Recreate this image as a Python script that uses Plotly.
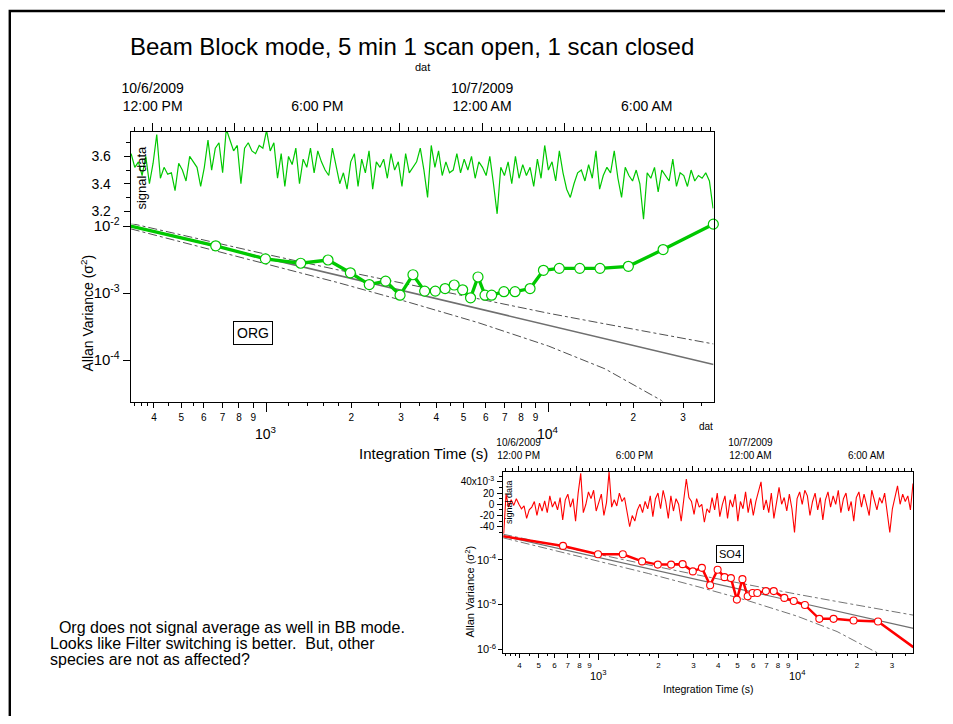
import math
import pandas as pd
import plotly.graph_objects as go

# The page puts the figure 8 px in from the top-left corner, so the figure is
# 8 px smaller than the window and every position is shifted by those 8 px.
PAGE_OFFSET = 8
W, H = 953 - PAGE_OFFSET, 724 - PAGE_OFFSET
FONT = "Liberation Sans, Arial, Helvetica, sans-serif"


def fx(x):
    return (x - PAGE_OFFSET) / W


def fy(y):
    return 1 - (y - PAGE_OFFSET) / H


# ---------------- data ----------------
# Allan variance lag times (s)
tau_s = [331, 662, 993, 1324, 1655, 1986, 2317, 2648, 2979, 3310, 3641, 3972,
         4303, 4634, 4965, 5296, 5627, 5958, 6289, 6951, 7613, 8606, 9599,
         10923, 12909, 15226, 19198, 25487, 38396]
org_allan = [1.0e-2, 5.08e-3, 3.24e-3, 2.79e-3, 3.12e-3, 2.01e-3, 1.34e-3,
             1.51e-3, 9.3e-4, 1.88e-3, 1.07e-3, 1.07e-3, 1.17e-3, 1.32e-3,
             1.12e-3, 8.5e-4, 1.74e-3, 9.3e-4, 9.3e-4, 1.05e-3, 1.05e-3,
             1.17e-3, 2.19e-3, 2.34e-3, 2.34e-3, 2.34e-3, 2.51e-3, 4.47e-3,
             1.07e-2]
so4_allan = [3.37e-4, 2.04e-4, 1.33e-4, 1.33e-4, 9.2e-5, 7.8e-5, 7.8e-5,
             8.0e-5, 5.5e-5, 6.6e-5, 2.7e-5, 6.0e-5, 4.1e-5, 3.9e-5, 1.29e-5,
             3.7e-5, 1.54e-5, 1.82e-5, 1.82e-5, 2.0e-5, 2.0e-5, 1.41e-5,
             1.20e-5, 9.8e-6, 4.8e-6, 4.8e-6, 4.4e-6, 4.2e-6, 1.12e-6]

# white-noise reference line and its confidence bounds
fit_tau = [331, 38460]
org_fit = [1.0e-2, 8.6e-5]
so4_fit = [3.39e-4, 2.95e-6]
bound_tau = [331, 562, 1000, 1778, 3162, 5623, 10000, 15850, 25120, 31620, 38460]
org_upper = [1.10e-2, 6.6e-3, 3.8e-3, 2.24e-3, 1.35e-3, 8.1e-4, 5.0e-4,
             3.47e-4, 2.4e-4, 2.0e-4, 1.74e-4]
org_lower = [9.1e-3, 5.1e-3, 2.75e-3, 1.45e-3, 7.4e-4, 3.63e-4, 1.62e-4,
             7.4e-5, 2.5e-5, 9.8e-6]
so4_upper = [3.72e-4, 2.24e-4, 1.30e-4, 7.7e-5, 4.57e-5, 2.75e-5, 1.70e-5,
             1.17e-5, 8.1e-6, 6.8e-6, 5.8e-6]
so4_lower = [3.09e-4, 1.74e-4, 9.3e-5, 4.95e-5, 2.51e-5, 1.23e-5, 5.5e-6,
             2.5e-6, 8.5e-7, 3.3e-7]

# raw signal time series
signal_start = "2009-10-06 11:13"
signal_step = "8min"
org_signal = [
    3.62, 3.52, 3.56, 3.46, 3.60, 3.40, 3.55, 3.76, 3.44, 3.52,
    3.47, 3.48, 3.35, 3.55, 3.50, 3.42, 3.60, 3.56, 3.52, 3.38,
    3.52, 3.72, 3.50, 3.66, 3.70, 3.48, 3.80, 3.72, 3.64, 3.68,
    3.40, 3.66, 3.70, 3.64, 3.62, 3.68, 3.66, 3.79, 3.64, 3.70,
    3.44, 3.62, 3.38, 3.60, 3.54, 3.66, 3.40, 3.58, 3.52, 3.66,
    3.48, 3.64, 3.56, 3.50, 3.46, 3.66, 3.52, 3.40, 3.48, 3.36,
    3.56, 3.62, 3.38, 3.58, 3.48, 3.64, 3.36, 3.56, 3.52, 3.58,
    3.44, 3.62, 3.50, 3.56, 3.38, 3.62, 3.48, 3.52, 3.56, 3.66,
    3.50, 3.30, 3.68, 3.52, 3.64, 3.46, 3.56, 3.48, 3.50, 3.62,
    3.48, 3.58, 3.50, 3.60, 3.44, 3.56, 3.52, 3.46, 3.60, 3.40,
    3.18, 3.52, 3.46, 3.56, 3.40, 3.60, 3.44, 3.54, 3.46, 3.52,
    3.38, 3.58, 3.44, 3.68, 3.50, 3.56, 3.42, 3.64, 3.48, 3.36,
    3.30, 3.40, 3.48, 3.50, 3.42, 3.54, 3.44, 3.64, 3.36, 3.46,
    3.52, 3.48, 3.64, 3.44, 3.30, 3.52, 3.46, 3.42, 3.50, 3.40,
    3.14, 3.48, 3.44, 3.52, 3.34, 3.50, 3.46, 3.42, 3.58, 3.38,
    3.48, 3.46, 3.38, 3.50, 3.42, 3.46, 3.44, 3.48, 3.42, 3.22,
]
so4_signal_milli = [
    -60, 18, -5, 8, -2, 10, 0, -8, -3, -25,
    -10, -5, 5, -20, 2, -12, 6, -15, 15, -5,
    5, -10, 12, -28, 8, 18, -5, 10, -30, 20,
    55, -15, 0, 22, 10, 25, -12, 5, 18, -20,
    3, 58, -5, 8, -3, 20, 5, 12, -18, -40,
    -20, -30, -10, 0, -15, 5, -8, 15, -22, 10,
    20, -8, 25, 5, -25, 15, -12, 10, 0, -30,
    8, 45, 12, 5, -18, 10, -5, 0, -32, -8,
    -15, 12, -10, 20, -22, 0, 15, -25, 8, -5,
    18, -30, 5, -8, 22, -15, 10, -20, 5, 25,
    40, -10, 8, -15, 20, -25, 5, 30, 0, 12,
    -12, 18, -8, -50, 10, 22, 0, 25, 15, -20,
    5, 20, -10, 12, -28, 8, 22, -5, 15, 0,
    25, -15, 10, 20, -12, 5, -30, 12, 22, -5,
    18, 0, -20, 25, 8, -10, 12, 2, 20, -15,
    -50, -8, 12, 33, 0, 18, 5, 15, -10, 37,
]
so4_signal = [v * 1e-3 for v in so4_signal_milli]
signal_time = pd.date_range(signal_start, periods=len(org_signal), freq=signal_step)

time_range = ["2009-10-06 11:12:20", "2009-10-07 08:26:00"]
date_tick_vals = ["2009-10-06 12:00", "2009-10-06 15:00", "2009-10-06 18:00",
                  "2009-10-06 21:00", "2009-10-07 00:00", "2009-10-07 03:00",
                  "2009-10-07 06:00"]
date_tick_text = ["10/6/2009<br>12:00 PM", "", "6:00 PM", "",
                  "10/7/2009<br>12:00 AM", "", "6:00 AM"]

log_tick_vals = [400, 500, 600, 700, 800, 900, 2000, 3000, 4000, 5000, 6000,
                 7000, 8000, 9000, 20000, 30000]
log_tick_text = ["4", "5", "6", "7", "8", "9", "2", "3", "4", "5", "6", "7",
                 "8", "9", "2", "3"]
log_sub_ticks = [340, 360, 380, 450, 550, 1200, 1400, 1600, 1800, 2500, 3500,
                 4500, 12000, 14000, 16000, 18000, 25000, 35000]
decade_vals = [1000, 10000]
decade_text = ["10<sup>3</sup>", "10<sup>4</sup>"]

note_lines = ["\u00a0\u00a0Org does not signal average as well in BB mode.",
              "Looks like Filter switching is better.\u00a0\u00a0But, other",
              "species are not as affected?"]

GREEN = "#00c800"
RED = "#ff0000"
GREY = "#6f6f6f"
DASHGREY = "#505050"

fig = go.Figure()

# ---------- top (ORG) ----------
fig.add_trace(go.Scatter(x=signal_time, y=org_signal, xaxis="x2", yaxis="y2",
                         mode="lines", line=dict(color=GREEN, width=1.2)))
fig.add_trace(go.Scatter(x=fit_tau, y=org_fit, xaxis="x", yaxis="y", mode="lines",
                         line=dict(color=GREY, width=1.5)))
fig.add_trace(go.Scatter(x=bound_tau, y=org_upper, xaxis="x", yaxis="y", mode="lines",
                         line=dict(color=DASHGREY, width=1, dash="dashdot")))
fig.add_trace(go.Scatter(x=bound_tau[:len(org_lower)], y=org_lower, xaxis="x", yaxis="y",
                         mode="lines", line=dict(color=DASHGREY, width=1, dash="dashdot")))
fig.add_trace(go.Scatter(x=tau_s, y=org_allan, xaxis="x", yaxis="y", mode="lines+markers",
                         line=dict(color=GREEN, width=3.3),
                         marker=dict(symbol="circle", size=10, color="white",
                                     line=dict(color=GREEN, width=1.2)),
                         cliponaxis=False))
fig.add_trace(go.Scatter(x=[1000], y=[1e-3], xaxis="x5", yaxis="y", mode="markers",
                         marker=dict(opacity=0), hoverinfo="skip"))

# ---------- bottom (SO4) ----------
fig.add_trace(go.Scatter(x=signal_time, y=so4_signal, xaxis="x4", yaxis="y4",
                         mode="lines", line=dict(color=RED, width=1.1)))
fig.add_trace(go.Scatter(x=fit_tau, y=so4_fit, xaxis="x3", yaxis="y3", mode="lines",
                         line=dict(color=GREY, width=1.2)))
fig.add_trace(go.Scatter(x=bound_tau, y=so4_upper, xaxis="x3", yaxis="y3", mode="lines",
                         line=dict(color=DASHGREY, width=0.8, dash="dashdot")))
fig.add_trace(go.Scatter(x=bound_tau[:len(so4_lower)], y=so4_lower, xaxis="x3", yaxis="y3",
                         mode="lines", line=dict(color=DASHGREY, width=0.8, dash="dashdot")))
fig.add_trace(go.Scatter(x=tau_s, y=so4_allan, xaxis="x3", yaxis="y3", mode="lines+markers",
                         line=dict(color=RED, width=2.5),
                         marker=dict(symbol="circle", size=7, color="white",
                                     line=dict(color=RED, width=1.1)),
                         cliponaxis=False))
fig.add_trace(go.Scatter(x=[1000], y=[1e-5], xaxis="x6", yaxis="y3", mode="markers",
                         marker=dict(opacity=0), hoverinfo="skip"))

common = dict(showgrid=False, zeroline=False, showline=True, linecolor="black",
              tickcolor="black", color="black")

top_dom = [fx(131), fx(719.3)]
bot_dom = [fx(507), fx(921)]

fig.update_layout(
    width=W, height=H, margin=dict(l=0, r=0, t=0, b=0),
    paper_bgcolor="white", plot_bgcolor="rgba(0,0,0,0)",
    showlegend=False, font=dict(family=FONT, color="black"),
    # top allan x (log)
    xaxis=dict(common, type="log", domain=top_dom, range=[2.52, 4.585], anchor="y",
               linewidth=1.3, ticks="outside", ticklen=5, tickwidth=1,
               tickvals=log_tick_vals, ticktext=log_tick_text,
               tickfont=dict(size=10), ticklabelstandoff=1,
               minor=dict(tickmode="array", tickvals=log_sub_ticks, ticks="outside",
                          ticklen=3, tickcolor="black", showgrid=False)),
    xaxis5=dict(type="log", overlaying="x", anchor="y", range=[2.52, 4.585],
                showgrid=False, zeroline=False, showline=False, ticks="outside",
                ticklen=9, tickcolor="black", tickvals=decade_vals,
                ticktext=["", ""], side="bottom"),
    yaxis=dict(common, type="log", domain=[fy(406.7), fy(226)], range=[-4.62, -1.963],
               anchor="x", linewidth=1.3, mirror=True, ticks="outside", ticklen=7,
               tickvals=[1e-4, 1e-3, 1e-2],
               ticktext=["10<sup>-4</sup>", "10<sup>-3</sup>", "10<sup>-2</sup>"],
               tickfont=dict(size=15), ticklabelstandoff=0),
    # top signal
    xaxis2=dict(common, type="date", domain=top_dom, range=time_range, anchor="y2",
                side="top", linewidth=1.3, ticks="outside", ticklen=8,
                tickvals=date_tick_vals, ticktext=date_tick_text,
                tickfont=dict(size=14), ticklabelstandoff=6,
                minor=dict(tickmode="linear", tick0="2009-10-06 12:00",
                           dtick=20 * 60 * 1000, ticks="outside", ticklen=4,
                           tickcolor="black", showgrid=False)),
    yaxis2=dict(common, domain=[fy(226), fy(132.7)], range=[3.108, 3.78], anchor="x2",
                linewidth=1.3, mirror=True, ticks="outside", ticklen=6,
                tickvals=[3.2, 3.4, 3.6], ticktext=["3.2", "3.4", "3.6"],
                tickfont=dict(size=14), ticklabelstandoff=10,
                minor=dict(tickmode="array", tickvals=[3.3, 3.5, 3.7], ticks="outside",
                           ticklen=4, tickcolor="black", showgrid=False)),
    # bottom allan
    xaxis3=dict(common, type="log", domain=bot_dom, range=[2.52, 4.584], anchor="y3",
                linewidth=1.1, ticks="outside", ticklen=3.5, tickwidth=1,
                tickvals=log_tick_vals, ticktext=log_tick_text,
                tickfont=dict(size=8), ticklabelstandoff=1,
                minor=dict(tickmode="array", tickvals=log_sub_ticks, ticks="outside",
                           ticklen=2, tickcolor="black", showgrid=False)),
    xaxis6=dict(type="log", overlaying="x3", anchor="y3", range=[2.52, 4.584],
                showgrid=False, zeroline=False, showline=False, ticks="outside",
                ticklen=6, tickcolor="black", tickvals=decade_vals,
                ticktext=["", ""], side="bottom"),
    yaxis3=dict(common, type="log", domain=[fy(662), fy(541)], range=[-6.08, -3.42],
                anchor="x3", linewidth=1.1, mirror=True, ticks="outside", ticklen=4,
                tickvals=[1e-6, 1e-5, 1e-4],
                ticktext=["10<sup>-6</sup>", "10<sup>-5</sup>", "10<sup>-4</sup>"],
                tickfont=dict(size=11), ticklabelstandoff=0),
    # bottom signal
    xaxis4=dict(common, type="date", domain=bot_dom, range=time_range, anchor="y4",
                side="top", linewidth=1.1, ticks="outside", ticklen=5,
                tickvals=date_tick_vals, ticktext=date_tick_text,
                tickfont=dict(size=10), ticklabelstandoff=3,
                minor=dict(tickmode="linear", tick0="2009-10-06 12:00",
                           dtick=20 * 60 * 1000, ticks="outside", ticklen=3,
                           tickcolor="black", showgrid=False)),
    yaxis4=dict(common, domain=[fy(541), fy(478)], range=[-0.0526, 0.0579], anchor="x4",
                linewidth=1.1, mirror=True, ticks="outside", ticklen=5,
                tickvals=[-0.04, -0.02, 0, 0.02, 0.04],
                ticktext=["-40", "-20", "0", "20", "40x10<sup>-3</sup>"],
                tickfont=dict(size=10), ticklabelstandoff=1,
                minor=dict(tickmode="array", tickvals=[-0.05, -0.03, -0.01, 0.01, 0.03, 0.05],
                           ticks="outside", ticklen=3, tickcolor="black", showgrid=False)),
)

ann = []


def text(x, y, s, size, angle=0, xanchor="center", yanchor="middle", xref="paper", **kw):
    ann.append(dict(x=x, y=y, xref=xref, yref="paper", text=s, showarrow=False,
                    font=dict(size=size, family=FONT, color="black"), textangle=angle,
                    xanchor=xanchor, yanchor=yanchor, **kw))


text(fx(415), fy(46), "Beam Block mode, 5 min 1 scan open, 1 scan closed", 24)
text(fx(425), fy(67), "dat", 11)
text(fx(712), fy(432), "dat", 10)
text(fx(426), fy(459), "Integration Time (s)", 15)
text(fx(87), fy(317), "Allan Variance (σ<sup>2</sup>)", 14, angle=-90)
text(fx(141.5), fy(179), "signal data", 13, angle=-90)
for v, t in zip(decade_vals, decade_text):
    text(math.log10(v), fy(439), t, 14, xref="x")
text(fx(254), fy(337), "ORG", 14, bordercolor="black", borderwidth=1, borderpad=3,
     bgcolor="white")

text(fx(714), fy(699), "Integration Time (s)", 10.5)
text(fx(473), fy(600), "Allan Variance (σ<sup>2</sup>)", 11, angle=-90)
text(fx(513.5), fy(509), "signal data", 9, angle=-90)
for v, t in zip(decade_vals, decade_text):
    text(math.log10(v), fy(684), t, 11, xref="x3")
text(fx(736), fy(562), "SO4", 11, bordercolor="black", borderwidth=1, borderpad=2,
     bgcolor="white")

for i, line in enumerate(note_lines):
    text(fx(47), fy(636 + 16.5 * i), line, 16, xanchor="left")

fig.update_layout(annotations=ann)
fig.add_shape(type="rect", xref="paper", yref="paper", x0=fx(8.8), y0=fy(10), x1=fx(990),
              y1=fy(760), line=dict(color="black", width=2.4), fillcolor="rgba(0,0,0,0)")

fig.write_html("out.html")
